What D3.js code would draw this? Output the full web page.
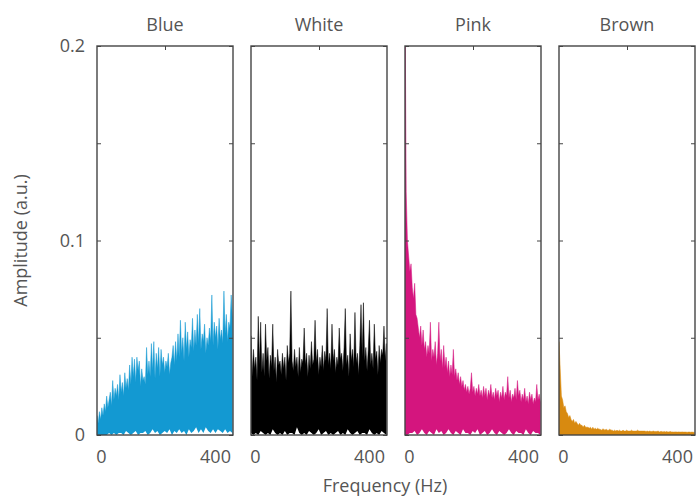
<!DOCTYPE html>
<html>
<head>
<meta charset="utf-8">
<script src="https://cdn.jsdelivr.net/npm/d3@7"></script>
<style>
  body { margin: 0; background: #fff; }
  text { font-family: "Open Sans", "Noto Sans", sans-serif; fill: #555; }
</style>
</head>
<body>
<svg width="696" height="498"></svg>
<script>
// panels
const noiseNames = ['Blue', 'White', 'Pink', 'Brown'];
const noiseColors = ['#1399d2', '#000000', '#d4157e', '#d88a10'];

// spectrum bins (Hz) and the white "floor" specks at the bottom of each panel
const freqs = d3.range(0, 452, 4);      // 0 ... 448 Hz, 113 bins
const floorFreqs = d3.range(0, 456, 8); // 0 ... 448 Hz, 57 bins

// amplitudes, in 1e-3 a.u.
const blueAmp = [
  10, 6, 12, 8, 14, 10, 16, 12, 20, 14,
  18, 22, 15, 28, 18, 24, 20, 26, 18, 31,
  22, 27, 20, 32, 24, 29, 23, 36, 26, 40,
  30, 39, 27, 40, 33, 38, 25, 34, 28, 30,
  26, 45, 31, 38, 30, 47, 33, 48, 29, 42,
  34, 45, 30, 44, 36, 40, 32, 38, 35, 42,
  31, 37, 40, 46, 36, 48, 38, 52, 40, 59,
  42, 50, 38, 58, 44, 53, 40, 49, 45, 60,
  43, 54, 46, 62, 47, 65, 44, 52, 48, 57,
  42, 50, 46, 55, 48, 72, 46, 58, 50, 56,
  44, 60, 49, 54, 47, 74, 52, 62, 48, 58,
  55, 72, 60
];
const whiteAmp = [
  51, 30, 44, 34, 40, 28, 61, 36, 58, 32,
  42, 30, 57, 38, 45, 29, 41, 35, 57, 33,
  40, 27, 44, 36, 38, 31, 42, 34, 40, 28,
  46, 37, 42, 74, 38, 33, 44, 35, 40, 30,
  45, 32, 39, 37, 55, 36, 42, 30, 41, 34,
  48, 36, 39, 59, 37, 44, 31, 40, 35, 46,
  33, 43, 38, 65, 36, 42, 34, 57, 38, 44,
  32, 40, 36, 55, 39, 42, 33, 45, 65, 36,
  41, 30, 52, 38, 44, 35, 63, 37, 42, 31,
  46, 67, 40, 68, 38, 45, 33, 44, 59, 36,
  42, 34, 57, 39, 43, 31, 46, 37, 44, 41,
  56, 38, 47
];
const pinkAmp = [
  230, 125, 100, 92, 84, 88, 76, 70, 78, 62,
  60, 55, 50, 56, 46, 54, 44, 48, 40, 46,
  42, 58, 38, 44, 40, 48, 36, 42, 58, 38,
  44, 34, 46, 35, 40, 32, 38, 30, 36, 31,
  44, 30, 34, 28, 32, 26, 30, 25, 28, 23,
  26, 22, 25, 21, 24, 32, 22, 25, 20, 24,
  21, 26, 20, 23, 19, 25, 20, 24, 18, 23,
  20, 26, 19, 22, 18, 24, 20, 23, 17, 22,
  19, 25, 18, 22, 20, 30, 19, 23, 17, 21,
  19, 24, 18, 28, 20, 23, 17, 21, 18, 24,
  17, 20, 16, 22, 18, 21, 16, 19, 17, 26,
  18, 21, 17
];
const brownAmp = [
  48, 34, 20, 18, 14, 15, 12, 11, 9, 10,
  8, 7, 8, 6, 7, 6, 5, 6, 5, 5,
  4, 5, 4, 4, 4, 3.5, 4, 3, 4, 3,
  3.5, 3, 3.5, 3, 3, 2.5, 3, 3, 2.5, 3,
  2.5, 2.5, 3, 2.5, 2.5, 2, 2.5, 2, 2.5, 2,
  2.5, 2, 2, 2.5, 2, 2, 2.5, 2, 2, 2,
  2.5, 2, 2, 2, 2, 2.5, 2, 2, 2, 2,
  2, 2, 1.8, 2, 1.8, 2, 1.8, 1.8, 2, 1.8,
  1.8, 1.8, 2, 1.6, 1.8, 1.8, 1.6, 1.8, 1.6, 1.8,
  1.6, 1.6, 1.8, 1.6, 1.6, 1.5, 1.6, 1.6, 1.5, 1.6,
  1.5, 1.5, 1.6, 1.5, 1.5, 1.5, 1.4, 1.5, 1.5, 1.4,
  1.5, 1.4, 1.4
];
const blueFloor = [
  0, 0, 0, 0, 0, 1, 0, 1, 0, 1,
  1, 0, 2, 1, 0, 1, 2, 0, 1, 1,
  2, 0, 1, 3, 1, 2, 0, 1, 2, 1,
  3, 0, 2, 1, 3, 1, 2, 0, 3, 1,
  2, 4, 1, 3, 1, 4, 2, 1, 3, 1,
  3, 2, 1, 3, 1, 2, 1
];
const whiteFloor = [
  1, 0, 1, 0, 2, 1, 0, 1, 0, 3,
  1, 0, 1, 0, 2, 0, 1, 1, 0, 4,
  1, 0, 1, 0, 2, 1, 0, 1, 3, 0,
  1, 2, 0, 1, 0, 1, 2, 0, 1, 0,
  3, 1, 0, 1, 2, 0, 1, 1, 0, 3,
  1, 0, 1, 0, 2, 1, 0
];
const pinkFloor = [
  0, 0, 1, 1, 2, 0, 1, 3, 1, 0,
  2, 1, 0, 3, 1, 2, 0, 1, 3, 1,
  0, 2, 1, 0, 3, 1, 1, 0, 2, 1,
  3, 0, 1, 2, 0, 1, 3, 1, 0, 2,
  1, 0, 1, 3, 1, 0, 2, 1, 1, 0,
  3, 1, 0, 2, 1, 1, 0
];

// tick labels
const yTickValues = [0, 0.05, 0.1, 0.15, 0.2];
const yLabelValues = [0, 0.1, 0.2];
const xLabelValues = [0, 400];

const amps = [blueAmp, whiteAmp, pinkAmp, brownAmp];
const floors = [blueFloor, whiteFloor, pinkFloor, null];
const milli = 1e-3;

const svg = d3.select('svg');

const panelX = d3.scaleBand()
  .domain(noiseNames)
  .range([97, 695])
  .paddingInner(18 / 154);
const pw = panelX.bandwidth();

const plotTop = 46, plotBottom = 435;
const y = d3.scaleLinear().domain([0, 0.2]).range([plotBottom, plotTop]);
const x = d3.scaleLinear().domain([0, 450]).range([0, pw]);
// the frequency labels sit a little right of the data origin in the original
const xLabel = d3.scaleLinear().domain([0, 400]).range([4, 118]);

const spectrum = d3.area()
  .x((d, i) => x(freqs[i]))
  .y0(y(0))
  .y1(d => y(d * milli));
const floorArea = d3.area()
  .x((d, i) => x(floorFreqs[i]))
  .y0(y(0))
  .y1(d => y(d * milli));

noiseNames.forEach((name, k) => {
  const g = svg.append('g').attr('transform', `translate(${panelX(name)},0)`);

  g.append('clipPath').attr('id', `clip${k}`)
    .append('rect')
      .attr('x', 0).attr('y', plotTop)
      .attr('width', pw).attr('height', plotBottom - plotTop);

  const plot = g.append('g').attr('clip-path', `url(#clip${k})`);
  plot.append('path')
    .datum(amps[k])
    .attr('d', spectrum)
    .attr('fill', noiseColors[k])
    .attr('stroke', noiseColors[k])
    .attr('stroke-width', 0.5);
  if (floors[k]) {
    plot.append('path')
      .datum(floors[k])
      .attr('d', floorArea)
      .attr('fill', '#fff');
  }

  // inward ticks on both sides and at the top
  const tickLeft = g.append('g')
    .call(d3.axisLeft(y).tickValues(yTickValues).tickSize(-4).tickFormat(''));
  const tickRight = g.append('g').attr('transform', `translate(${pw},0)`)
    .call(d3.axisRight(y).tickValues(yTickValues).tickSize(-4).tickFormat(''));
  const tickTop = g.append('g').attr('transform', `translate(0,${plotTop})`)
    .call(d3.axisTop(x).tickValues([225]).tickSize(-4).tickFormat(''));
  [tickLeft, tickRight, tickTop].forEach(a => {
    a.select('.domain').remove();
    a.selectAll('line').attr('stroke', '#444');
  });

  g.append('rect')
    .attr('x', 0).attr('y', plotTop)
    .attr('width', pw).attr('height', plotBottom - plotTop)
    .attr('fill', 'none')
    .attr('stroke', '#454545')
    .attr('stroke-width', 1.4);

  g.append('text')
    .attr('x', pw / 2).attr('y', 31)
    .attr('text-anchor', 'middle')
    .style('font-size', '18px')
    .text(name);

  const xAx = g.append('g').attr('transform', `translate(0,${plotBottom})`)
    .call(d3.axisBottom(xLabel).tickValues(xLabelValues).tickSize(0).tickPadding(15));
  xAx.select('.domain').remove();
  xAx.selectAll('text').style('font-size', '18px').attr('fill', '#555');

  if (k === 0) {
    const yAx = g.append('g')
      .call(d3.axisLeft(y).tickValues(yLabelValues).tickSize(0).tickPadding(12)
        .tickFormat(d3.format('')));
    yAx.select('.domain').remove();
    yAx.selectAll('text').style('font-size', '18px').attr('fill', '#555');
  }
});

svg.append('text')
  .attr('transform', `translate(27,${(plotTop + plotBottom) / 2}) rotate(-90)`)
  .attr('text-anchor', 'middle')
  .style('font-size', '18px')
  .text('Amplitude (a.u.)');

svg.append('text')
  .attr('x', 385).attr('y', 492)
  .attr('text-anchor', 'middle')
  .style('font-size', '18px')
  .text('Frequency (Hz)');
</script>
</body>
</html>
